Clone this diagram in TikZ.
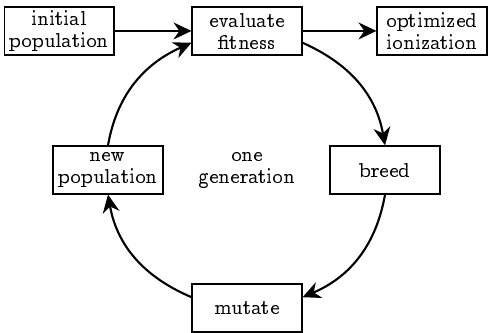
\documentclass[tikz,border=0pt]{standalone}
\usepackage[OT1]{fontenc}
\usepackage{ccfonts}
\usetikzlibrary{arrows.meta}

\begin{document}
\begin{tikzpicture}[>={Stealth[length=8.5pt,width=8pt]},
    txt/.style={align=center,font=\fontsize{10}{10.5}\selectfont},
    stage/.style={txt,draw,line width=0.6pt,minimum width=1.83cm,minimum height=0.8cm,inner sep=1pt},
    flow/.style={->,line width=1pt}]
        \useasboundingbox (-4.117,-2.717) rectangle (4.033,2.833);
        \node[stage] (init) at (-3.133,2.317) {initial\\population};
        \node[stage] (eval) at (0,2.317) {evaluate\\fitness};
        \node[stage] (opt) at (3.083,2.317) {optimized\\ionization};
        \node[stage] (breed) at (2.3,0) {breed};
        \node[stage] (mutate) at (0,-2.3) {mutate};
        \node[stage] (newpop) at (-2.317,0) {new\\population};
        \node[txt] (gen) at (0,0) {one\\generation};
        \draw[flow] (init)--(eval);
        \draw[flow] (eval)--(opt);
        % the four stages sit on one circle
        \draw[flow] (eval.-12) to [out=-24,in=100] (breed.north);
        \draw[flow] (breed.south) to [out=-100,in=23] (mutate.11);
        \draw[flow] (mutate.169) to [out=157,in=-80] (newpop.south);
        \draw[flow] (newpop.north) to [out=80,in=-156] (eval.192);
    \end{tikzpicture}
\end{document}
